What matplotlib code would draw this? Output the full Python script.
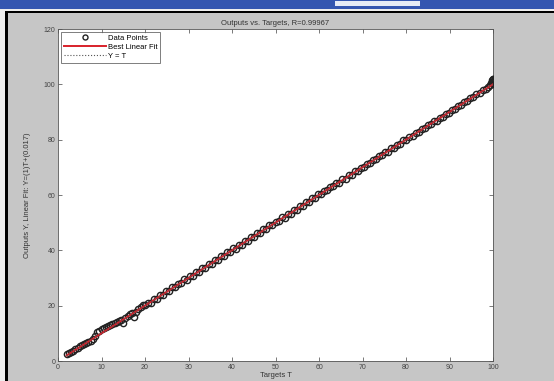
import numpy as np
import matplotlib.pyplot as plt
from matplotlib.patches import Rectangle

# targets / network outputs
targets = [
    2.0, 2.5, 3.0, 3.5, 4.0, 4.5, 5.0, 5.5, 6.0, 6.5, 7.0, 7.5, 8.0, 8.5, 9.0, 9.5,
    10.0, 10.5, 11.0, 11.5, 12.0, 12.5, 13.0, 13.5, 14.0, 14.5, 15.0, 15.5, 16.0,
    16.5, 17.0, 17.5, 18.0, 18.5, 19.0, 19.5, 20.0,
    20.6, 21.3, 22.0, 22.7, 23.4, 24.1, 24.8, 25.5, 26.2, 26.9, 27.6, 28.3, 29.0,
    29.7, 30.4, 31.1, 31.8, 32.5, 33.2, 33.9, 34.6, 35.3, 36.0, 36.7, 37.4, 38.1,
    38.8, 39.5, 40.2, 40.9, 41.6, 42.3, 43.0, 43.7, 44.4, 45.1, 45.8, 46.5, 47.2,
    47.9, 48.6, 49.3, 50.0, 50.7, 51.4, 52.1, 52.8, 53.5, 54.2, 54.9, 55.6, 56.3,
    57.0, 57.7, 58.4, 59.1, 59.8, 60.5, 61.2, 61.9, 62.6, 63.3, 64.0, 64.7, 65.4,
    66.1, 66.8, 67.5, 68.2, 68.9, 69.6, 70.3, 71.0, 71.7, 72.4, 73.1, 73.8, 74.5,
    75.2, 75.9, 76.6, 77.3, 78.0, 78.7, 79.4, 80.1, 80.8, 81.5, 82.2, 82.9, 83.6,
    84.3, 85.0, 85.7, 86.4, 87.1, 87.8, 88.5, 89.2, 89.9, 90.6, 91.3, 92.0, 92.7,
    93.4, 94.1, 94.8, 95.5, 96.2, 96.9, 97.6, 98.3, 98.8, 99.2, 99.5, 99.7, 99.8,
    99.9, 100.0, 100.0, 99.9, 100.0,
]
outputs = [
    2.6, 2.9, 3.2, 3.6, 4.3, 4.6, 5.3, 5.7, 6.2, 6.5, 7.0, 7.4, 8.1, 9.2, 10.4, 11.0,
    11.6, 12.0, 12.3, 12.6, 12.9, 13.2, 13.6, 14.1, 14.5, 14.9, 13.7, 15.6, 16.4,
    16.9, 17.2, 15.9, 17.6, 18.9, 19.5, 20.1, 20.4,
    20.9, 21.0, 22.5, 22.4, 23.9, 23.8, 25.3, 25.2, 26.8, 26.6, 28.0, 28.1, 29.5,
    29.4, 30.8, 30.9, 32.3, 32.2, 33.6, 33.7, 35.0, 35.1, 36.5, 36.5, 37.9, 37.9,
    39.3, 39.3, 40.7, 40.6, 42.0, 42.1, 43.5, 43.4, 44.9, 44.9, 46.3, 46.3, 47.7,
    47.6, 49.1, 49.0, 50.4, 50.5, 51.9, 51.8, 53.2, 53.3, 54.6, 54.7, 56.0, 56.0,
    57.4, 57.5, 58.8, 58.9, 60.2, 60.3, 61.6, 61.7, 62.9, 63.1, 64.4, 64.5, 65.8,
    65.9, 67.1, 67.3, 68.6, 68.7, 69.9, 70.1, 71.3, 71.5, 72.7, 72.9, 74.1, 74.3,
    75.4, 75.7, 76.9, 77.1, 78.2, 78.5, 79.7, 79.9, 81.0, 81.3, 82.4, 82.7, 83.8,
    84.1, 85.2, 85.5, 86.6, 86.9, 88.0, 88.3, 89.4, 89.7, 90.8, 91.1, 92.2, 92.5,
    93.5, 93.9, 95.0, 95.3, 96.4, 96.8, 97.9, 98.3, 99.1, 99.8, 100.4, 101.0, 101.6,
    100.7, 101.9, 101.2, 102.0, 100.3,
]
fit_slope = 1.0
fit_intercept = 0.017
r_value = 0.99967

x_ticks = [0, 10, 20, 30, 40, 50, 60, 70, 80, 90, 100]
y_ticks = [0, 20, 40, 60, 80, 100, 120]

plt.rcParams['font.family'] = ['Liberation Sans', 'DejaVu Sans']

fig = plt.figure(figsize=(5.54, 3.81), dpi=100)
fig.patch.set_facecolor('#c6c6c6')

# window frame bits from the screenshot
fig.patches.append(Rectangle((0, 1 - 9 / 381), 1, 9 / 381, transform=fig.transFigure,
                             facecolor='#3556b0', edgecolor='none', zorder=0))
fig.patches.append(Rectangle((0, 0), 5 / 554, 1 - 9 / 381, transform=fig.transFigure,
                             facecolor='#eeeeee', edgecolor='none', zorder=0))
fig.patches.append(Rectangle((0, 1 - 11 / 381), 1, 2 / 381, transform=fig.transFigure,
                             facecolor='#eeeeee', edgecolor='none', zorder=0))
fig.patches.append(Rectangle((5 / 554, 0), 3 / 554, 1 - 11 / 381, transform=fig.transFigure,
                             facecolor='black', edgecolor='none', zorder=1))
fig.patches.append(Rectangle((5 / 554, 1 - 13 / 381), 1, 2 / 381, transform=fig.transFigure,
                             facecolor='black', edgecolor='none', zorder=1))
fig.patches.append(Rectangle((335 / 554, 1 - 6 / 381), 85 / 554, 5 / 381, transform=fig.transFigure,
                             facecolor='#e8ecf6', edgecolor='none', zorder=1))

ax = fig.add_axes([58 / 554, 20 / 381, 435 / 554, 332 / 381])
ax.set_facecolor('white')

t = np.array(targets)
y = np.array(outputs)
xr = np.array([t.min(), t.max()])

ax.plot(t, y, 'o', mfc='none', mec='#222222', ms=4.5, mew=1.0, label='Data Points', zorder=3)
ax.plot(xr, fit_slope * xr + fit_intercept, color='#d8202a', lw=1.4, label='Best Linear Fit', zorder=4)
ax.plot(xr, xr, ':', color='#555555', lw=0.8, label='Y = T', zorder=5)

ax.set_xlim(0, 100)
ax.set_ylim(0, 120)
ax.set_xticks(x_ticks)
ax.set_yticks(y_ticks)
ax.tick_params(direction='in', length=3, width=0.5, labelsize=5, colors='#444444',
               top=True, right=True, pad=2)
for s in ax.spines.values():
    s.set_linewidth(0.6)
    s.set_color('#555555')

ax.set_title('Outputs vs. Targets, R=%.5f' % r_value, fontsize=5.5, color='#333333', pad=3)
ax.set_xlabel('Targets T', fontsize=5.5, color='#333333', labelpad=1)
ax.set_ylabel('Outputs Y, Linear Fit: Y=(1)T+(%.3g)' % fit_intercept, fontsize=5.5,
              color='#333333', labelpad=9)

leg = ax.legend(loc='upper left', fontsize=5.5, frameon=True, fancybox=False,
                borderpad=0.35, labelspacing=0.2, handlelength=5.5, handletextpad=0.3,
                borderaxespad=0.4, markerscale=0.8)
leg.get_frame().set_edgecolor('#444444')
leg.get_frame().set_linewidth(0.6)

fig.savefig('out.png', dpi=100, facecolor=fig.get_facecolor())
